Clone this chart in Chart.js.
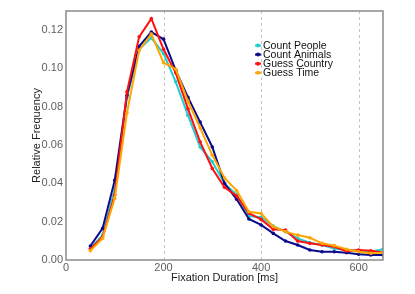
<!DOCTYPE html>
<html><head><meta charset="utf-8">
<script src="https://cdn.jsdelivr.net/npm/chart.js@4/dist/chart.umd.min.js"></script>
<style>html,body{margin:0;padding:0;background:#fff}#wrap{width:415px;height:294px}</style>
</head><body><div id="wrap"><canvas id="c" width="415" height="294"></canvas></div>
<script>
const durations = [50,75,100,125,150,175,200,225,250,275,300,325,350,375,400,425,450,475,500,525,550,575,600,625,650];
const countPeople   = [0.0061,0.0130,0.0370,0.0850,0.1100,0.1160,0.1078,0.0930,0.0756,0.0590,0.0513,0.0400,0.0340,0.0230,0.0223,0.0177,0.0148,0.0113,0.0090,0.0078,0.0060,0.0052,0.0047,0.0043,0.0056];
const countAnimals  = [0.0073,0.0165,0.0417,0.0860,0.1116,0.1190,0.1153,0.0990,0.0850,0.0720,0.0590,0.0400,0.0317,0.0214,0.0183,0.0139,0.0099,0.0078,0.0052,0.0043,0.0043,0.0038,0.0030,0.0026,0.0026];
const guessCountry  = [0.0057,0.0120,0.0340,0.0878,0.1165,0.1260,0.1100,0.0977,0.0790,0.0617,0.0478,0.0380,0.0334,0.0244,0.0212,0.0160,0.0156,0.0099,0.0087,0.0078,0.0069,0.0047,0.0052,0.0048,0.0039];
const guessTime     = [0.0049,0.0113,0.0323,0.0768,0.1095,0.1180,0.1030,0.0996,0.0830,0.0690,0.0548,0.0428,0.0362,0.0252,0.0243,0.0174,0.0148,0.0130,0.0116,0.0087,0.0075,0.0056,0.0043,0.0035,0.0038];
const seriesLabels = ["Count People","Count Animals","Guess Country","Guess Time"];
const seriesColors = ["#1ecfd0","#0a0a8c","#ff1010","#ffa500"];
const xTickStep = 200, yTickStep = 0.02;

const allSeries = [countPeople,countAnimals,guessCountry,guessTime];
const datasets = allSeries.map((s,i)=>({
  label: seriesLabels[i],
  data: durations.map((x,j)=>({x:x,y:s[j]})),
  borderColor: seriesColors[i],
  backgroundColor: seriesColors[i],
  borderWidth: 2,
  pointRadius: 1.8,
  pointBorderWidth: 0,
  order: 4-i,
  tension: 0
}));

const boxPlugin = {
  id:'box',
  beforeDatasetsDraw(chart){
    const a = chart.chartArea, ctx = chart.ctx, xs = chart.scales.x;
    ctx.save();
    ctx.strokeStyle = '#c4c4c4';
    ctx.lineWidth = 1;
    ctx.setLineDash([3,3]);
    xs.ticks.forEach(t=>{
      if (t.value <= xs.min) return;
      const px = Math.round(xs.getPixelForValue(t.value)) + 0.5;
      ctx.beginPath(); ctx.moveTo(px, a.top); ctx.lineTo(px, a.bottom); ctx.stroke();
    });
    ctx.restore();
  },
  afterDatasetsDraw(chart){
    const a = chart.chartArea, ctx = chart.ctx;
    ctx.save();
    ctx.strokeStyle = '#8a8a8a';
    ctx.lineWidth = 1.5;
    ctx.strokeRect(a.left, a.top, a.right-a.left, a.bottom-a.top);
    // legend
    ctx.font = '10.5px "Liberation Sans", Arial, sans-serif';
    ctx.textBaseline = 'middle';
    const lx = 255, ly = 45.5, dy = 9.1;
    chart.data.datasets.forEach((d,i)=>{
      const y = ly + i*dy;
      ctx.strokeStyle = d.borderColor; ctx.fillStyle = d.borderColor;
      ctx.lineWidth = 2;
      ctx.beginPath(); ctx.moveTo(lx, y); ctx.lineTo(lx+6, y); ctx.stroke();
      ctx.beginPath(); ctx.arc(lx+3, y, 2, 0, Math.PI*2); ctx.fill();
      ctx.fillStyle = '#111';
      ctx.fillText(d.label, lx+8, y+0.5);
    });
    ctx.restore();
  }
};

new Chart(document.getElementById('c'), {
  type:'line',
  data:{datasets},
  options:{
    responsive:false, animation:false, devicePixelRatio:1,
    layout:{padding:{left:0,top:11,right:32,bottom:0}},
    plugins:{legend:{display:false},tooltip:{enabled:false}},
    scales:{
      x:{
        type:'linear', min:0, max:650,
        ticks:{stepSize:xTickStep, includeBounds:false, color:'#606060', font:{family:'"Liberation Sans", Arial, sans-serif', size:11}, padding:1, maxRotation:0},
        grid:{display:false, drawTicks:false},
        border:{display:false},
        title:{display:true, text:'Fixation Duration [ms]', color:'#222', font:{family:'"Liberation Sans", Arial, sans-serif', size:11}, padding:{top:0,bottom:9}},
        afterFit(s){ s.height = 34; }
      },
      y:{
        min:0, max:0.13,
        ticks:{stepSize:yTickStep, includeBounds:false, color:'#606060', font:{family:'"Liberation Sans", Arial, sans-serif', size:11}, padding:3, callback:(v)=>v.toFixed(2)},
        grid:{display:false, drawTicks:false},
        border:{display:false},
        title:{display:true, text:'Relative Frequency', color:'#222', font:{family:'"Liberation Sans", Arial, sans-serif', size:11}, padding:{top:30,bottom:0}},
        afterFit(s){ s.width = 66; }
      }
    }
  },
  plugins:[boxPlugin]
});
</script></body></html>
